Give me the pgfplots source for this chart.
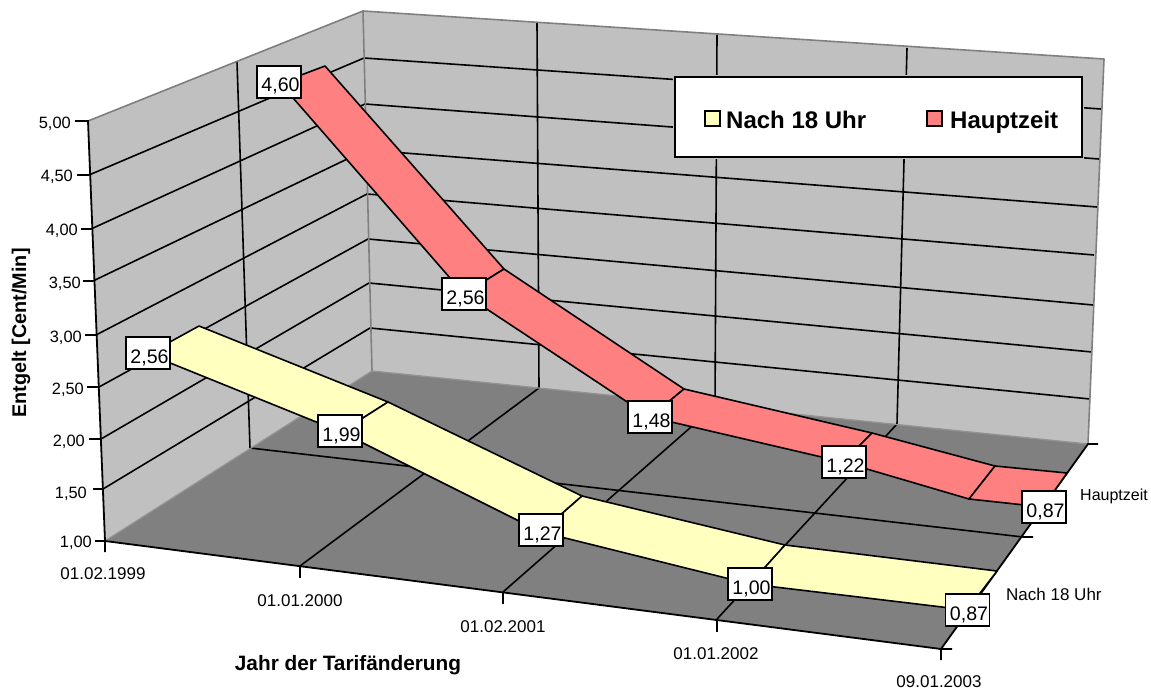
\documentclass[border=0pt]{standalone}
\usepackage{fontspec}
\setmainfont{Liberation Sans}
\usepackage{pgfplots}
\pgfplotsset{compat=1.18}
\definecolor{wall}{HTML}{C0C0C0}
\definecolor{floorc}{HTML}{808080}
\definecolor{edge}{HTML}{808080}
\definecolor{rotband}{HTML}{FF8080}
\definecolor{gelb}{HTML}{FFFFC0}
\tikzset{grid3d/.style={draw=black,line width=1.6pt,line join=round,line cap=butt},
 band/.style={draw=black,line width=1.6pt,line join=round},
 ticktxt/.style={font=\fontsize{16.4}{18}\selectfont,inner sep=0pt},
 xticktxt/.style={font=\fontsize{17}{18}\selectfont,inner sep=0pt},
 titletxt/.style={font=\fontsize{19.8}{22}\selectfont\bfseries,inner sep=0pt},
 legtxt/.style={font=\fontsize{24}{26}\selectfont\bfseries,inner sep=0pt,anchor=base west}}
\begin{document}
\begin{tikzpicture}
\begin{axis}[scale only axis,width=1151pt,height=690pt,xmin=0,xmax=1151,ymin=0,ymax=690,
  y dir=reverse,axis lines=none,clip=false,ticks=none]
% page
\addplot[draw=none,fill=white] coordinates {(0,0)(1151,0)(1151,690)(0,690)} -- cycle;
% walls and floor
\addplot[draw=none,fill=wall] coordinates {(88,121)(363,11)(372,371)(105,541)} -- cycle;
\addplot[draw=none,fill=wall] coordinates {(363,11)(1104,59)(1088,444)(372,371)} -- cycle;
\addplot[draw=none,fill=floorc] coordinates {(105,541)(372,371)(1088,444)(941,649)} -- cycle;
% value gridlines: tick, front edge, back corner, right edge
\addplot[grid3d] coordinates {(77,175)(89,175)(364,58)(1101,109)};
\addplot[grid3d] coordinates {(81,229)(91,229)(365,104)(1099,159)};
\addplot[grid3d] coordinates {(83,281)(93,281)(366,150)(1097,207)};
\addplot[grid3d] coordinates {(85,335)(96,335)(367,194)(1094,255)};
\addplot[grid3d] coordinates {(87,387)(99,387)(368,239)(1093,305)};
\addplot[grid3d] coordinates {(89,439)(101,439)(369,283)(1092,352)};
\addplot[grid3d] coordinates {(93,489)(103,489)(370,328)(1090,399)};
% verticals on the walls
\addplot[grid3d] coordinates {(237,62)(250,448)};
\addplot[grid3d] coordinates {(537,23)(539,388)};
\addplot[grid3d] coordinates {(717,35)(715,406)};
\addplot[grid3d] coordinates {(907,48)(897,424)};
% floor lines
\addplot[grid3d] coordinates {(250,448)(1023,537)(1033,537)};
\addplot[grid3d] coordinates {(539,388)(300,566)};
\addplot[grid3d] coordinates {(715,406)(503,592)};
\addplot[grid3d] coordinates {(897,424)(717,619)};
% grey edges
\addplot[draw=edge,line width=1.6pt,line join=round] coordinates {(88,121)(363,11)(1104,59)(1088,444)};
\addplot[draw=edge,line width=1.6pt] coordinates {(363,11)(372,371)};
\addplot[draw=edge!70!wall,line width=1.3pt] coordinates {(105,541)(372,371)(1088,444)};
% axes
\addplot[draw=black,line width=1.8pt] coordinates {(75,121)(88,121)(105,541)(105,552)};
\addplot[draw=black,line width=1.8pt] coordinates {(95,541)(105,541)(941,649)(941,660)};
\addplot[draw=black,line width=1.8pt] coordinates {(952,649)(941,649)(1088,444)(1098,444)};
\addplot[draw=black,line width=1.6pt] coordinates {(300,566)(300,578)};
\addplot[draw=black,line width=1.6pt] coordinates {(503,592)(503,604)};
\addplot[draw=black,line width=1.6pt] coordinates {(717,619)(717,632)};
% Hauptzeit band
\addplot[band,fill=rotband] coordinates {(280,83)(325,66)(504,269)(464,294)} -- cycle;
\addplot[band,fill=rotband] coordinates {(464,294)(504,269)(684,389)(650,417)} -- cycle;
\addplot[band,fill=rotband] coordinates {(650,417)(684,389)(872,433)(843,462)} -- cycle;
\addplot[band,fill=rotband] coordinates {(843,462)(872,433)(995,466)(969,499)} -- cycle;
\addplot[band,fill=rotband] coordinates {(969,499)(995,466)(1067,473)(1043,507)} -- cycle;
% Nach 18 Uhr band
\addplot[band,fill=gelb] coordinates {(148,354)(199,326)(388,402)(341,432)} -- cycle;
\addplot[band,fill=gelb] coordinates {(341,432)(388,402)(582,496)(541,532)} -- cycle;
\addplot[band,fill=gelb] coordinates {(541,532)(582,496)(785,545)(750,584)} -- cycle;
\addplot[band,fill=gelb] coordinates {(750,584)(785,545)(997,571)(967,610)} -- cycle;
% data labels
\addplot[draw=none,mark=none,point meta=explicit symbolic,
  nodes near coords={\raisebox{-10pt}[14pt][14pt]{\hspace*{3pt}\pgfplotspointmeta}},
  every node near coord/.style={anchor=center,draw=black,fill=white,line width=1.5pt,
    minimum width=44pt,minimum height=32pt,inner sep=0pt,
    font=\fontsize{19.6}{22}\selectfont}]
 coordinates {(279,82)[4,60] (464,294)[2,56] (650,417)[1,48] (844,462)[1,22] (1044,507)[0,87]
              (148,353)[2,56] (340,431)[1,99] (541,530)[1,27] (750,584)[1,00] (967.5,610)[0,87]};
% legend
\addplot[draw=wall,fill=white,line width=4.5pt,line join=miter] coordinates {(675,77)(1082,77)(1082,157)(675,157)} -- cycle;
\addplot[draw=black,fill=white,line width=1.6pt] coordinates {(675,77)(1082,77)(1082,157)(675,157)} -- cycle;
\addplot[draw=black,fill=gelb,line width=1.5pt] coordinates {(705,111)(720,111)(720,126)(705,126)} -- cycle;
\addplot[draw=black,fill=rotband,line width=1.5pt] coordinates {(927,111)(942,111)(942,126)(927,126)} -- cycle;
\node[legtxt] at (axis cs:726,128.5) {Nach 18 Uhr};
\node[legtxt] at (axis cs:950,128.5) {Hauptzeit};
% tick labels
\node[ticktxt,anchor=east] at (axis cs:71,124) {5,00};
\node[ticktxt,anchor=east] at (axis cs:73,177) {4,50};
\node[ticktxt,anchor=east] at (axis cs:78,231) {4,00};
\node[ticktxt,anchor=east] at (axis cs:81,284) {3,50};
\node[ticktxt,anchor=east] at (axis cs:82,338) {3,00};
\node[ticktxt,anchor=east] at (axis cs:84,390) {2,50};
\node[ticktxt,anchor=east] at (axis cs:85,442) {2,00};
\node[ticktxt,anchor=east] at (axis cs:87,494) {1,50};
\node[ticktxt,anchor=east] at (axis cs:92,543) {1,00};
\node[xticktxt] at (axis cs:103,574) {01.02.1999};
\node[xticktxt] at (axis cs:300,601) {01.01.2000};
\node[xticktxt] at (axis cs:503,627) {01.02.2001};
\node[xticktxt] at (axis cs:716,654) {01.01.2002};
\node[xticktxt] at (axis cs:939,682) {09.01.2003};
\node[inner sep=0pt,anchor=base west,font=\fontsize{16}{18}\selectfont] at (axis cs:1080,500) {Hauptzeit};
\node[inner sep=0pt,anchor=base west,font=\fontsize{17}{18}\selectfont] at (axis cs:1006,600) {Nach 18 Uhr};
% axis titles
\node[titletxt,rotate=90] at (axis cs:21,333) {Entgelt [Cent/Min]};
\node[titletxt,font=\fontsize{20.8}{22}\selectfont\bfseries] at (axis cs:348,665) {Jahr der Tarifänderung};
\end{axis}
\end{tikzpicture}
\end{document}
